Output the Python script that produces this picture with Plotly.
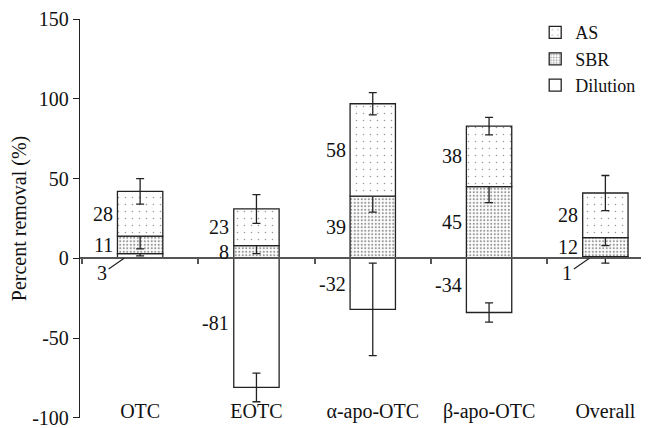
import plotly.graph_objects as go

categories = ["OTC", "EOTC", "α-apo-OTC", "β-apo-OTC", "Overall"]
dilution = [3, -81, -32, -34, 1]
sbr = [11, 8, 39, 45, 12]
as_vals = [28, 23, 58, 38, 28]
dilution_err = [1.5, 9, 29, 6, 4]
sbr_err = [8, 5, 10, 10, 5]
as_err = [8, 9, 7, 5.5, 11]
y_ticks = [-100, -50, 0, 50, 100, 150]
y_tick_text = [str(v) for v in y_ticks]

FONT = "Liberation Serif"
LINE = "#222222"
BAR_W = 0.39

fig = go.Figure()

def add_bar(name, vals, errs, pattern):
    fig.add_trace(go.Bar(
        x=categories, y=vals, name=name, width=BAR_W,
        marker=dict(color="white", line=dict(color=LINE, width=1.3), pattern=pattern),
        error_y=dict(type="data", array=errs, visible=True, color=LINE, thickness=1.3, width=4),
    ))

add_bar("Dilution", dilution, dilution_err, dict(shape=""))
add_bar("SBR", sbr, sbr_err, dict(shape=".", size=3.5, solidity=0.3, fgcolor="#333", bgcolor="white"))
add_bar("AS", as_vals, as_err, dict(shape=".", size=7, solidity=0.04, fgcolor="#333", bgcolor="white"))

# dummy trace for the zero-line axis with boundary ticks
fig.add_trace(go.Scatter(x=categories, y=[0] * len(categories), xaxis="x2", mode="markers",
                         marker=dict(opacity=0), showlegend=False, hoverinfo="skip"))

# value labels
annotations = []
for i, cat in enumerate(categories):
    segs = []
    pos_base = 0
    neg_base = 0
    for v in (dilution[i], sbr[i], as_vals[i]):
        if v >= 0:
            segs.append((v, pos_base + v / 2))
            pos_base += v
        else:
            segs.append((v, neg_base + v / 2))
            neg_base += v
    for v, mid in segs:
        if abs(v) < 5:
            annotations.append(dict(x=cat, y=0, text=str(v), showarrow=True, arrowhead=0,
                                    arrowwidth=1.2, arrowcolor=LINE, ax=-22, ay=15, xshift=-16,
                                    font=dict(family=FONT, size=20, color="#111")))
        else:
            annotations.append(dict(x=cat, y=mid, text=str(v), showarrow=False, xanchor="right",
                                    xshift=-25, font=dict(family=FONT, size=20, color="#111")))

fig.update_layout(
    width=641, height=420,
    margin=dict(l=72, r=0, t=11, b=10),
    paper_bgcolor="white", plot_bgcolor="white",
    barmode="relative",
    font=dict(family=FONT, size=20, color="#111"),
    showlegend=True,
    legend=dict(x=0.80, y=1.012, xanchor="left", yanchor="top", traceorder="reversed",
                font=dict(family=FONT, size=18, color="#111"), bgcolor="rgba(0,0,0,0)",
                itemwidth=30, tracegroupgap=0),
    xaxis=dict(range=[-0.517, 4.375], anchor="free", position=0.053, showline=False,
               showgrid=False, zeroline=False, ticks="", tickfont=dict(family=FONT, size=20)),
    xaxis2=dict(overlaying="x", range=[-0.517, 4.375], anchor="free", position=0.4,
                showline=True, linecolor="#555", linewidth=1.5, showgrid=False, zeroline=False,
                ticks="outside", ticklen=5, tickcolor="#555", tickwidth=1.5,
                tickson="boundaries", showticklabels=False, type="category",
                categoryarray=categories, categoryorder="array"),
    yaxis=dict(range=[-100.2, 150.2], tickvals=y_ticks, ticktext=y_tick_text,
               ticklabeloverflow="allow",
               showline=True, linecolor=LINE, linewidth=1.3,
               ticks="outside", ticklen=6, tickcolor=LINE, showgrid=False, zeroline=False,
               tickfont=dict(family=FONT, size=20),
               title=dict(text="Percent removal (%)", font=dict(family=FONT, size=20), standoff=4)),
    annotations=annotations,
)

fig.write_html("out.html")
